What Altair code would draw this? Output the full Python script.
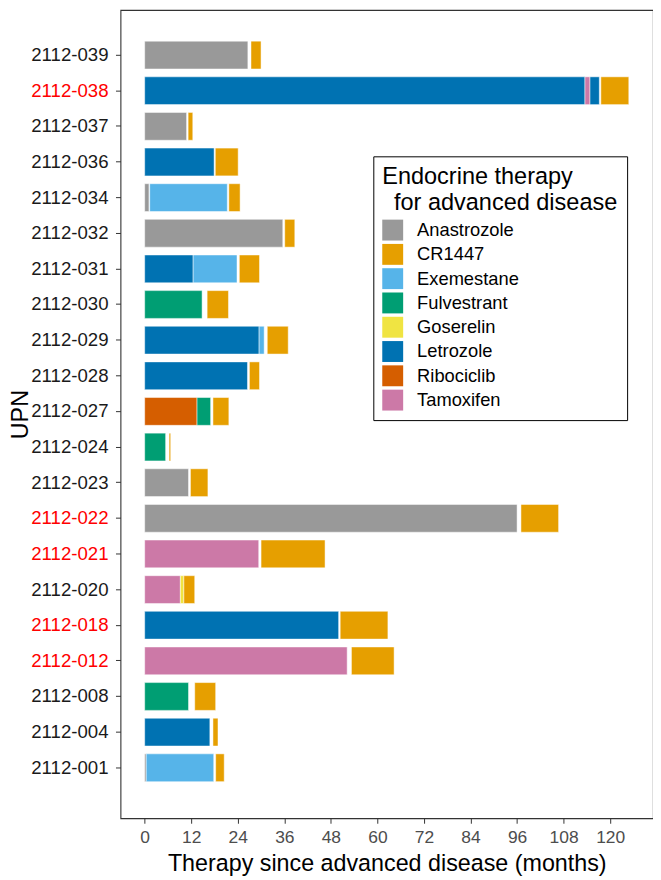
import altair as alt
import pandas as pd

upn_order = ["2112-039", "2112-038", "2112-037", "2112-036", "2112-034", "2112-032",
             "2112-031", "2112-030", "2112-029", "2112-028", "2112-027", "2112-024",
             "2112-023", "2112-022", "2112-021", "2112-020", "2112-018", "2112-012",
             "2112-008", "2112-004", "2112-001"]
red_upns = ["2112-038", "2112-022", "2112-021", "2112-018", "2112-012"]

drugs = ["Anastrozole", "CR1447", "Exemestane", "Fulvestrant", "Goserelin",
         "Letrozole", "Ribociclib", "Tamoxifen"]
drug_colors = ["#999999", "#E69F00", "#56B4E9", "#009E73", "#F0E442",
               "#0072B2", "#D55E00", "#CC79A7"]

seg_upn = ["2112-039", "2112-039",
           "2112-038", "2112-038", "2112-038", "2112-038",
           "2112-037", "2112-037",
           "2112-036", "2112-036",
           "2112-034", "2112-034", "2112-034",
           "2112-032", "2112-032",
           "2112-031", "2112-031", "2112-031",
           "2112-030", "2112-030",
           "2112-029", "2112-029", "2112-029",
           "2112-028", "2112-028",
           "2112-027", "2112-027", "2112-027",
           "2112-024", "2112-024",
           "2112-023", "2112-023",
           "2112-022", "2112-022",
           "2112-021", "2112-021",
           "2112-020", "2112-020", "2112-020",
           "2112-018", "2112-018",
           "2112-012", "2112-012",
           "2112-008", "2112-008",
           "2112-004", "2112-004",
           "2112-001", "2112-001", "2112-001"]
seg_drug = ["Anastrozole", "CR1447",
            "Letrozole", "Tamoxifen", "Letrozole", "CR1447",
            "Anastrozole", "CR1447",
            "Letrozole", "CR1447",
            "Anastrozole", "Exemestane", "CR1447",
            "Anastrozole", "CR1447",
            "Letrozole", "Exemestane", "CR1447",
            "Fulvestrant", "CR1447",
            "Letrozole", "Exemestane", "CR1447",
            "Letrozole", "CR1447",
            "Ribociclib", "Fulvestrant", "CR1447",
            "Fulvestrant", "CR1447",
            "Anastrozole", "CR1447",
            "Anastrozole", "CR1447",
            "Tamoxifen", "CR1447",
            "Tamoxifen", "Goserelin", "CR1447",
            "Letrozole", "CR1447",
            "Tamoxifen", "CR1447",
            "Fulvestrant", "CR1447",
            "Letrozole", "CR1447",
            "Anastrozole", "Exemestane", "CR1447"]
seg_start = [0, 27.4,
             0, 113.5, 114.8, 117.6,
             0, 11.2,
             0, 18.2,
             0, 1.3, 21.7,
             0, 36.1,
             0, 12.5, 24.4,
             0, 16.1,
             0, 29.5, 31.6,
             0, 27.0,
             0, 13.5, 17.6,
             0, 6.3,
             0, 11.8,
             0, 97.0,
             0, 30.0,
             0, 9.2, 10.1,
             0, 50.4,
             0, 53.3,
             0, 12.9,
             0, 17.6,
             0, 0.4, 18.3]
seg_end = [26.6, 30.0,
           113.5, 114.8, 117.2, 124.8,
           10.8, 12.4,
           17.9, 24.1,
           1.1, 21.3, 24.6,
           35.6, 38.7,
           12.5, 23.8, 29.6,
           14.8, 21.6,
           29.5, 30.8, 37.0,
           26.5, 29.6,
           13.5, 17.0, 21.7,
           5.4, 6.7,
           11.3, 16.3,
           96.0, 106.7,
           29.4, 46.5,
           9.2, 10.1, 12.9,
           50.0, 62.7,
           52.2, 64.3,
           11.3, 18.3,
           16.8, 18.9,
           0.4, 17.8, 20.5]

x_ticks = [0, 12, 24, 36, 48, 60, 72, 84, 96, 108, 120]

df = pd.DataFrame({"UPN": seg_upn, "Drug": seg_drug, "start": seg_start, "end": seg_end})

FONT = "Liberation Sans"
red_list = "[" + ",".join("'" + u + "'" for u in red_upns) + "]"

chart = alt.Chart(df).mark_bar(stroke="white", strokeWidth=0.6, strokeOpacity=0.8).encode(
    x=alt.X("start:Q",
            scale=alt.Scale(domain=[-6.24, 131.04], nice=False, zero=False),
            axis=alt.Axis(values=x_ticks, grid=False, domain=False,
                          title="Therapy since advanced disease (months)",
                          labelFont=FONT, labelFontSize=17.5, labelColor="#4D4D4D",
                          labelPadding=5, tickSize=5, tickColor="#333333", tickWidth=1,
                          titleFont=FONT, titleFontSize=23.4, titleFontWeight="normal",
                          titleColor="black", titleBaseline="alphabetic", titleY=52)),
    x2="end:Q",
    y=alt.Y("UPN:N", sort=upn_order,
            scale=alt.Scale(domain=upn_order, paddingInner=0.22, paddingOuter=0.951, align=0.46),
            axis=alt.Axis(grid=False, domain=False, title="UPN",
                          labelFont=FONT, labelFontSize=18.7,
                          labelColor=alt.ExprRef(expr="indexof(" + red_list + ", datum.value) >= 0 ? '#FF0000' : '#1A1A1A'"),
                          labelPadding=7.5, tickSize=5, tickColor="#333333", tickWidth=1,
                          titleFont=FONT, titleFontSize=23.4, titleFontWeight="normal",
                          titleColor="black", titleAngle=270, titleBaseline="alphabetic",
                          titleX=-93)),
    color=alt.Color("Drug:N",
                    scale=alt.Scale(domain=drugs, range=drug_colors),
                    legend=alt.Legend(orient="none", legendX=254, legendY=147,
                                      title=["Endocrine therapy", "\u200b\u2002for advanced disease"],
                                      titleFont=FONT, titleFontSize=23.6, titleFontWeight="normal",
                                      titleColor="black", titleLineHeight=26, titlePadding=5,
                                      titleLimit=500, labelLimit=300,
                                      labelFont=FONT, labelFontSize=18.4, labelColor="black",
                                      labelOffset=14, symbolType="square", symbolSize=441,
                                      symbolStrokeWidth=0, rowPadding=3.4,
                                      padding=9, strokeColor="black", fillColor="white")),
).properties(
    width=535, height=812,
    background="white",
    autosize=alt.AutoSizeParams(type="none"),
    padding={"left": 113, "top": 0, "right": 0, "bottom": 56},
).configure_view(
    stroke="#333333", strokeWidth=1.1
)

chart.save("out.html", embed_options={"renderer": "svg", "actions": False})
